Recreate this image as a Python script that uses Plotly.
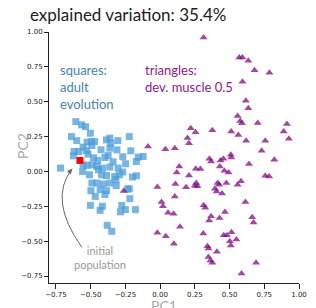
import plotly.graph_objects as go

# ---- data (PC1, PC2) ----
tri_x = [0.313, 0.570, 0.593, 0.635, 0.680, 0.787, 0.593, 0.617, 0.635, 0.558,
         0.577, 0.589, 0.703, 0.913, 0.220, 0.255, 0.376, 0.512, 0.563, 0.890,
         0.927, 0.197, 0.208, 0.619, 0.757, -0.087, 0.038, 0.106, 0.731, 0.509,
         0.512, 0.355, 0.367, 0.435, 0.456, 0.430, 0.822, 0.138, 0.120, 0.257,
         0.290, 0.463, 0.493, 0.640, 0.208, 0.757, 0.785, -0.020, 0.110, 0.187,
         0.260, 0.269, 0.250, 0.414, 0.425, 0.395, 0.407, 0.446, 0.477, 0.582,
         0.558, 0.106, 0.010, 0.020, 0.057, 0.097, 0.313, 0.325, 0.614, 0.367,
         0.353, 0.428, 0.467, 0.663, 0.673, 0.143, -0.020, 0.041, 0.099, 0.311,
         0.458, 0.481, 0.514, 0.502, 0.549, 0.509, 0.341, 0.348, 0.409, 0.348,
         0.362, 0.376, 0.691, 0.586, -0.262]
tri_y = [0.960, 0.817, 0.817, 0.793, 0.726, 0.707, 0.643, 0.507, 0.453, 0.398,
         0.362, 0.346, 0.348, 0.341, 0.310, 0.281, 0.296, 0.286, 0.262, 0.286,
         0.234, 0.239, 0.203, 0.221, 0.221, 0.179, 0.160, 0.167, 0.148, 0.119,
         0.100, 0.091, 0.071, 0.079, 0.091, 0.036, 0.084, 0.036, -0.007, 0.019,
         0.017, 0.005, -0.007, 0.053, -0.029, -0.031, -0.036, -0.111, -0.090, -0.114,
         -0.083, -0.107, -0.102, -0.083, -0.095, -0.124, -0.143, -0.159, -0.083, -0.071,
         -0.095, -0.179, -0.219, -0.250, -0.297, -0.304, -0.243, -0.261, -0.219, -0.321,
         -0.352, -0.333, -0.290, -0.329, -0.366, -0.397, -0.440, -0.464, -0.519, -0.445,
         -0.457, -0.457, -0.436, -0.500, -0.488, -0.531, -0.536, -0.552, -0.576, -0.614,
         -0.638, -0.654, -0.654, -0.731, -0.141]

sq_x = [-0.607, -0.565, -0.537, -0.502, -0.638, -0.600, -0.526, -0.495, -0.472, -0.491,
        -0.554, -0.386, -0.362, -0.355, -0.304, -0.222, -0.425, -0.362, -0.311, -0.619,
        -0.584, -0.530, -0.519, -0.624, -0.211, -0.397, -0.374, -0.269, -0.122, -0.157,
        -0.171, -0.449, -0.717, -0.554, -0.526, -0.491, -0.456, -0.558, -0.444, -0.414,
        -0.362, -0.302, -0.269, -0.509, -0.421, -0.386, -0.327, -0.292, -0.199, -0.171,
        -0.491, -0.456, -0.409, -0.362, -0.316, -0.234, -0.498, -0.432, -0.386, -0.467,
        -0.397, -0.222, -0.218, -0.502, -0.416, -0.432, -0.276, -0.250, -0.285, -0.178,
        -0.381, -0.348, -0.339, -0.248, -0.479, -0.318]
sq_y = [0.357, 0.334, 0.321, 0.274, 0.250, 0.221, 0.210, 0.214, 0.214, 0.186,
        0.174, 0.226, 0.239, 0.203, 0.221, 0.250, 0.155, 0.167, 0.155, 0.143,
        0.143, 0.150, 0.124, 0.112, 0.148, 0.100, 0.114, 0.105, 0.107, 0.103,
        0.071, 0.079, 0.024, 0.048, 0.043, 0.048, 0.036, 0.000, 0.012, 0.024,
        0.031, 0.024, -0.004, -0.024, -0.024, -0.029, -0.036, -0.024, -0.040, -0.031,
        -0.083, -0.083, -0.090, -0.083, -0.102, -0.126, -0.138, -0.131, -0.138, -0.179,
        -0.166, -0.124, -0.195, -0.243, -0.250, -0.279, -0.243, -0.274, -0.290, -0.274,
        -0.386, -0.429, 0.069, 0.055, 0.098, -0.059]

init_x = [-0.577]
init_y = [0.079]

tick_vals = [-0.75, -0.5, -0.25, 0.0, 0.25, 0.5, 0.75, 1.0]
title_text = "explained variation: 35.4%"

FONT = "Lato"

fig = go.Figure()
fig.add_trace(go.Scatter(x=sq_x, y=sq_y, mode="markers",
                         marker=dict(symbol="square", size=7, color="rgb(74,157,218)",
                                     opacity=0.75, line=dict(width=0))))
fig.add_trace(go.Scatter(x=tri_x, y=tri_y, mode="markers",
                         marker=dict(symbol="triangle-up", size=7, color="#800080",
                                     opacity=0.72, line=dict(width=0))))
fig.add_trace(go.Scatter(x=init_x, y=init_y, mode="markers",
                         marker=dict(symbol="square", size=7, color="#ff0000",
                                     line=dict(width=0))))

# curved arrow from label to initial population
fig.add_shape(type="path", xref="x", yref="y",
              path="M -0.563,-0.545 Q -0.808,-0.202 -0.633,0.019",
              line=dict(color="#666", width=1))

# page body has an 8px margin: figure positions below are in window pixels
OFF = 8
W, H = 316 - OFF, 308 - OFF
ML, MR, MT, MB = 49 - OFF, 9, 32 - OFF, 24
pw, ph = W - ML - MR, H - MT - MB

annotations = [
    dict(x=-0.633, y=0.019, xref="x", yref="y", text="", showarrow=True,
         ax=-5, ay=6, arrowhead=2, arrowsize=1, arrowwidth=1, arrowcolor="#666", standoff=0),
    dict(x=-0.735, y=0.80, xref="x", yref="y", text="squares:<br>adult<br>evolution",
         showarrow=False, xanchor="left", yanchor="top", align="left",
         font=dict(family=FONT, size=13, color="#4682b4")),
    dict(x=-0.12, y=0.80, xref="x", yref="y", text="triangles:<br>dev. muscle 0.5",
         showarrow=False, xanchor="left", yanchor="top", align="left",
         font=dict(family=FONT, size=13, color="#8b1a8b")),
    dict(x=102, y=258, xref="paper", yref="paper", text="initial<br>population",
         showarrow=False, xanchor="center", yanchor="middle", align="center",
         font=dict(family=FONT, size=11, color="#999")),
    dict(x=21.5, y=146, xref="paper", yref="paper", text="PC2", textangle=-90,
         showarrow=False, xanchor="center", yanchor="middle",
         font=dict(family=FONT, size=14, color="#aaa")),
    dict(x=168, y=307, xref="paper", yref="paper", text="PC1",
         showarrow=False, xanchor="center", yanchor="middle",
         font=dict(family=FONT, size=14, color="#aaa")),
    dict(x=131, y=14.5, xref="paper", yref="paper", text=title_text,
         showarrow=False, xanchor="center", yanchor="middle",
         font=dict(family=FONT, size=17, color="#222")),
]

for a in annotations:
    if a.get("xref") == "paper":
        a["x"] = (a["x"] - OFF - ML) / pw
        a["y"] = 1 - (a["y"] - OFF - MT) / ph

fig.update_layout(
    width=W, height=H,
    margin=dict(l=ML, r=MR, t=MT, b=MB, pad=0),
    paper_bgcolor="white", plot_bgcolor="white",
    showlegend=False,
    annotations=annotations,
    font=dict(family=FONT),
    xaxis=dict(range=[-0.8, 1.0], tickvals=tick_vals, tickformat=".2f",
               showgrid=False, zeroline=False, showline=True, linecolor="#222",
               linewidth=1, ticks="outside", ticklen=5, tickcolor="#222",
               tickfont=dict(family="DejaVu Sans", size=7, color="#222")),
    yaxis=dict(range=[-0.8, 1.0], tickvals=tick_vals, tickformat=".2f",
               showgrid=False, zeroline=False, showline=True, linecolor="#222",
               linewidth=1, ticks="outside", ticklen=4, tickcolor="#222",
               tickfont=dict(family="DejaVu Sans", size=7, color="#222")),
)

fig.write_html("out.html")
